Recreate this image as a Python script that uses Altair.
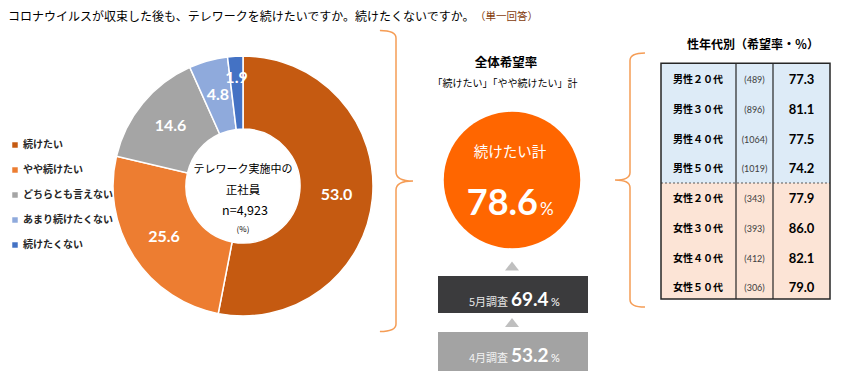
import math
import altair as alt
import pandas as pd

# ---------------- data ----------------
title_main = "コロナウイルスが収束した後も、テレワークを続けたいですか。続けたくないですか。"
title_note = "（単一回答）"

categories = ["続けたい", "やや続けたい", "どちらとも言えない", "あまり続けたくない", "続けたくない"]
shares = [53.0, 25.6, 14.6, 4.8, 1.9]
colors = ["#C55A11", "#ED7D31", "#A5A5A5", "#8FAADC", "#4472C4"]

center_lines = ["テレワーク実施中の", "正社員", "n=4,923", "(%)"]

overall_head = "全体希望率"
overall_sub = "「続けたい」「やや続けたい」計"
total_label = "続けたい計"
total_value = 78.6
surveys = ["5月調査", "4月調査"]
survey_values = [69.4, 53.2]

table_title = "性年代別（希望率・％）"
groups = ["男性２０代", "男性３０代", "男性４０代", "男性５０代",
          "女性２０代", "女性３０代", "女性４０代", "女性５０代"]
group_n = ["(489)", "(896)", "(1064)", "(1019)", "(343)", "(393)", "(412)", "(306)"]
group_rates = [77.3, 81.1, 77.5, 74.2, 77.9, 86.0, 82.1, 79.0]

# ---------------- layout helpers ----------------
JP = "Noto Sans CJK JP"
NUM = "Lato"
OFF = 8  # page margin


def X(v):
    return v - OFF


def Y(v):
    return v - OFF


one = pd.DataFrame({"t": [""]})


def label(text, x, y, size, weight="normal", color="#000000", align="center",
          baseline="middle", font=JP):
    return alt.Chart(pd.DataFrame({"t": [text]})).mark_text(
        font=font, fontSize=size, fontWeight=weight, color=color,
        align=align, baseline=baseline
    ).encode(text="t:N", x=alt.value(X(x)), y=alt.value(Y(y)))


def box(x1, x2, y1, y2, color):
    return alt.Chart(one).mark_rect(color=color).encode(
        x=alt.value(X(x1)), x2=alt.value(X(x2)), y=alt.value(Y(y1)), y2=alt.value(Y(y2)))


# ---------------- donut ----------------
donut_df = pd.DataFrame({"cat": categories, "value": shares, "idx": list(range(len(shares)))})
CX, CY = X(243), Y(186)

arcs = alt.Chart(donut_df).mark_arc(
    innerRadius=57, outerRadius=130, stroke="white", strokeWidth=1.5
).encode(
    theta=alt.Theta("value:Q", stack=True),
    color=alt.Color(
        "cat:N", sort=categories,
        scale=alt.Scale(domain=categories, range=colors),
        legend=alt.Legend(
            title=None, orient="none", legendX=X(10), legendY=Y(140),
            symbolType="square", symbolSize=30, symbolStrokeWidth=0,
            labelFont=JP, labelFontSize=10, labelFontWeight="bold",
            labelColor="#262626", rowPadding=15, labelOffset=3, padding=0,
        ),
    ),
    order=alt.Order("idx:Q"),
    x=alt.value(CX), y=alt.value(CY),
)

lab_base = alt.Chart(donut_df).transform_window(
    cum="sum(value)", sort=[alt.SortField("idx")], frame=[None, 0]
).transform_calculate(mid="datum.cum - datum.value / 2")

labels_main = lab_base.transform_filter("datum.value >= 2").mark_text(
    radius=94, font=NUM, fontSize=16, fontWeight="bold", color="white"
).encode(theta=alt.Theta("mid:Q", stack=False),
         text=alt.Text("value:Q", format=".1f"),
         x=alt.value(CX), y=alt.value(CY))

labels_small = lab_base.transform_filter("datum.value < 2").mark_text(
    radius=108, font=NUM, fontSize=16, fontWeight="bold", color="white"
).encode(theta=alt.Theta("mid:Q", stack=False),
         text=alt.Text("value:Q", format=".1f"),
         x=alt.value(CX), y=alt.value(CY))

center = [
    label(center_lines[0], 243, 170, 11),
    label(center_lines[1], 243, 191, 11.5),
    label(center_lines[2], 245, 211, 12.5),
    label(center_lines[3], 243, 230, 8),
]

# ---------------- braces ----------------
brace_right = "M-0.107,-1 Q0,-1 0,-0.95 L0,-0.06 Q0,0 0.113,0 Q0,0 0,0.06 L0,0.95 Q0,1 -0.107,1"
brace_left = "M0.118,-1 Q0,-1 0,-0.94 L0,-0.06 Q0,0 -0.118,0 Q0,0 0,0.06 L0,0.94 Q0,1 0.118,1"
BRACE = "#F59D56"
brace1 = alt.Chart(one).mark_point(
    shape=brace_right, filled=False, size=301 ** 2, color=BRACE, strokeWidth=1.5, opacity=1
).encode(x=alt.value(X(396)), y=alt.value(Y(181)))
brace2 = alt.Chart(one).mark_point(
    shape=brace_left, filled=False, size=254 ** 2, color=BRACE, strokeWidth=1.5, opacity=1
).encode(x=alt.value(X(630)), y=alt.value(Y(180)))

# ---------------- middle block ----------------
circle = alt.Chart(one).mark_point(
    shape="circle", filled=True, size=math.pi * 77 ** 2, color="#FF6600",
    opacity=1, strokeWidth=0
).encode(x=alt.value(X(512)), y=alt.value(Y(180)))

tri = "M0,-0.65 L1,0.65 L-1,0.65 Z"
tri1 = alt.Chart(one).mark_point(shape=tri, filled=True, size=196, color="#BFBFBF",
                                  opacity=1, strokeWidth=0).encode(
    x=alt.value(X(512)), y=alt.value(Y(266)))
tri2 = alt.Chart(one).mark_point(shape=tri, filled=True, size=196, color="#BFBFBF",
                                  opacity=1, strokeWidth=0).encode(
    x=alt.value(X(512)), y=alt.value(Y(322.5)))

middle = [
    label(overall_head, 506, 63, 12.5, "bold"),
    label(overall_sub, 505, 84, 10),
    circle,
    label(total_label, 510, 153, 14.5, color="white"),
    label(f"{total_value:.1f}", 538, 215, 36, "bold", "white", "right", "alphabetic", NUM),
    label("%", 540, 215, 17, "normal", "white", "left", "alphabetic", NUM),
    tri1, tri2,
    box(438, 588, 276, 313, "#3B3B3D"),
    label(surveys[0], 508, 305.5, 11, "normal", "#E6E6E6", "right", "alphabetic"),
    label(f"{survey_values[0]:.1f}", 511, 305.5, 19, "bold", "white", "left", "alphabetic", NUM),
    label("%", 551, 305.5, 11, "normal", "white", "left", "alphabetic", NUM),
    box(438, 588, 332, 371, "#A3A3A3"),
    label(surveys[1], 508, 361.5, 11, "normal", "#F2F2F2", "right", "alphabetic"),
    label(f"{survey_values[1]:.1f}", 511, 361.5, 19, "bold", "white", "left", "alphabetic", NUM),
    label("%", 551, 361.5, 11, "normal", "white", "left", "alphabetic", NUM),
]

# ---------------- table ----------------
T_L, T_R, T_T, T_B, T_MID = 661, 830, 63.3, 299, 183
C1, C2 = 736, 773
table_df = pd.DataFrame({"g": groups, "n": group_n, "r": group_rates})
yrow = alt.Y("g:N", sort=groups, axis=None,
             scale=alt.Scale(type="point", domain=groups,
                             range=[Y(80), Y(288.3)], padding=0))

tbl = [
    label(table_title, 753, 45, 12, "bold"),
    box(T_L, T_R, T_T, T_MID, "#DDEBF7"),
    box(T_L, T_R, T_MID, T_B, "#FCE4D6"),
    alt.Chart(table_df).mark_text(font=JP, fontSize=10, fontWeight="bold", color="#000000").encode(
        y=yrow, x=alt.value(X(698)), text="g:N"),
    alt.Chart(table_df).mark_text(font=NUM, fontSize=9, color="#404040").encode(
        y=yrow, x=alt.value(X(754.5)), text="n:N"),
    alt.Chart(table_df).mark_text(font=NUM, fontSize=13, fontWeight="bold", color="#000000").encode(
        y=yrow, x=alt.value(X(801.5)), text=alt.Text("r:Q", format=".1f")),
    alt.Chart(one).mark_rule(color="#595959", strokeDash=[2, 2], strokeWidth=1.2).encode(
        x=alt.value(X(T_L)), x2=alt.value(X(T_R)), y=alt.value(Y(T_MID))),
    alt.Chart(one).mark_rule(color="#262626", strokeWidth=1.2).encode(
        x=alt.value(X(C1)), y=alt.value(Y(T_T)), y2=alt.value(Y(T_B))),
    alt.Chart(one).mark_rule(color="#262626", strokeWidth=1.2).encode(
        x=alt.value(X(C2)), y=alt.value(Y(T_T)), y2=alt.value(Y(T_B))),
    alt.Chart(one).mark_rect(filled=False, color="#262626", strokeWidth=1.5).encode(
        x=alt.value(X(T_L)), x2=alt.value(X(T_R)), y=alt.value(Y(T_T)), y2=alt.value(Y(T_B))),
]

# ---------------- title ----------------
titles = [
    label(title_main, 8, 17, 12, align="left"),
    label(title_note, 475, 17, 10.5, color="#843C0C", align="left"),
]

chart = alt.layer(
    *titles, arcs, labels_main, labels_small, *center, brace1, brace2, *middle, *tbl
).properties(
    width=830, height=364, autosize="none", padding=0
).configure_view(stroke="transparent")

chart.save("out.html", embed_options={"renderer": "svg", "actions": False})
